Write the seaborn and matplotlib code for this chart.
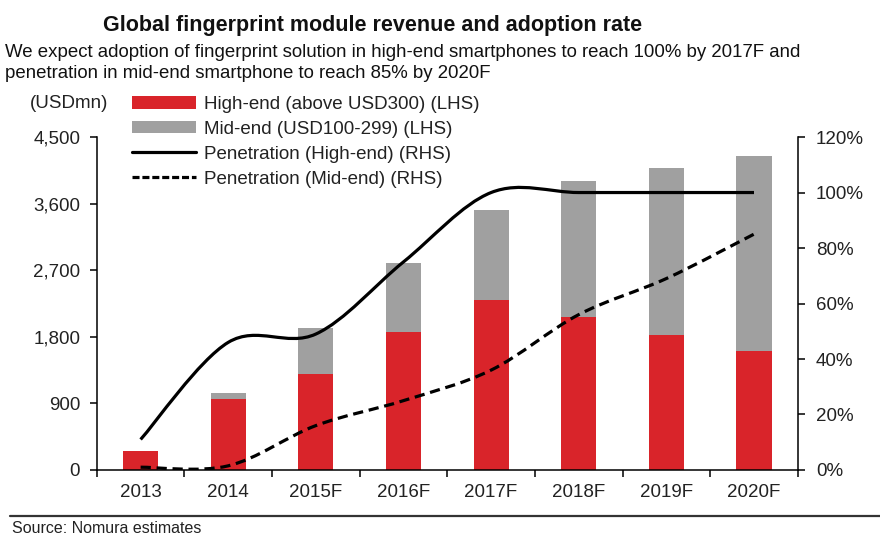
import numpy as np
import pandas as pd
import matplotlib
matplotlib.use("Agg")
import matplotlib.pyplot as plt
import seaborn as sns
from matplotlib.path import Path
from matplotlib.patches import PathPatch, Patch
from matplotlib.lines import Line2D
from matplotlib.ticker import FuncFormatter, PercentFormatter

# data
years = ["2013", "2014", "2015F", "2016F", "2017F", "2018F", "2019F", "2020F"]
high_end = [250, 959, 1297, 1864, 2297, 2071, 1824, 1608]      # USDmn
mid_end = [0, 77, 621, 933, 1216, 1834, 2260, 2634]            # USDmn
pen_high = [0.11, 0.46, 0.49, 0.75, 1.00, 1.00, 1.00, 1.00]
pen_mid = [0.01, 0.015, 0.16, 0.25, 0.36, 0.56, 0.69, 0.85]

RED = "#D9242A"
GREY = "#A0A0A0"

sns.set_style("white")
plt.rcParams["font.family"] = ["Liberation Sans", "DejaVu Sans"]

df = pd.DataFrame({"year": years, "high": high_end, "mid": mid_end})
df["total"] = df["high"] + df["mid"]

fig = plt.figure(figsize=(8.8, 5.37), dpi=100)
ax = fig.add_axes([0.110, 0.1248, 0.7966, 0.620])

# stacked bars: total in grey behind, high-end in red in front
sns.barplot(data=df, x="year", y="total", order=years, color=GREY,
            saturation=1, width=0.4, linewidth=0, ax=ax)
sns.barplot(data=df, x="year", y="high", order=years, color=RED,
            saturation=1, width=0.4, linewidth=0, ax=ax)
ax.set_xlabel("")
ax.set_ylabel("")
ax.set_xlim(-0.5, len(years) - 0.5)
ax.set_ylim(0, 4500)
ax.set_yticks(np.arange(0, 4501, 900))
ax.yaxis.set_major_formatter(FuncFormatter(lambda v, p: f"{v:,.0f}"))

ax.set_xticks(range(len(years)))
ax.set_xticklabels(years)
ax.set_xticks(np.arange(-0.5, len(years)), minor=True)
ax.tick_params(axis="x", which="major", length=0, pad=10, labelsize=13.5,
               colors="#222222")
ax.tick_params(axis="x", which="minor", length=5, width=1.1, color="black",
               direction="out", bottom=True)
ax.tick_params(axis="y", length=5, width=1.1, direction="out", pad=7,
               labelsize=13.5, colors="#222222")
ax.tick_params(axis="y", color="black")

for s in ["left", "bottom", "right"]:
    ax.spines[s].set_visible(True)
    ax.spines[s].set_color("black")
    ax.spines[s].set_linewidth(1.1)
ax.spines["top"].set_visible(False)


def smooth_path(xs, ys):
    # excel-like smoothed line (cubic bezier through the data points)
    pts = np.column_stack([xs, ys]).astype(float)
    n = len(pts)
    verts = [pts[0]]
    codes = [Path.MOVETO]
    for i in range(n - 1):
        p0 = pts[i - 1] if i > 0 else pts[i]
        p1 = pts[i]
        p2 = pts[i + 1]
        p3 = pts[i + 2] if i + 2 < n else pts[i + 1]
        verts += [p1 + (p2 - p0) / 6, p2 - (p3 - p1) / 6, p2]
        codes += [Path.CURVE4] * 3
    return Path(verts, codes)


ax2 = ax.twinx()
ax2.set_ylim(0, 1.2)
ax2.set_yticks(np.arange(0, 1.21, 0.2))
ax2.yaxis.set_major_formatter(PercentFormatter(1.0, decimals=0))
ax2.tick_params(axis="y", length=5, width=1.1, direction="out", pad=8,
                labelsize=13.5, colors="#222222")
ax2.tick_params(axis="y", color="black")
for s in ax2.spines.values():
    s.set_visible(False)
ax2.grid(False)
ax.grid(False)

xpos = np.arange(len(years))
ax2.add_patch(PathPatch(smooth_path(xpos, pen_high), fill=False,
                        edgecolor="black", lw=2.3, capstyle="butt"))
ax2.add_patch(PathPatch(smooth_path(xpos, pen_mid), fill=False,
                        edgecolor="black", lw=2.3, linestyle=(0, (3.2, 1.8)),
                        capstyle="butt"))

handles = [
    Patch(facecolor=RED, edgecolor="none"),
    Patch(facecolor=GREY, edgecolor="none"),
    Line2D([], [], color="black", lw=2.3),
    Line2D([], [], color="black", lw=2.3, linestyle=(0, (2.2, 0.9))),
]
labels = [
    "High-end (above USD300) (LHS)",
    "Mid-end (USD100-299) (LHS)",
    "Penetration (High-end) (RHS)",
    "Penetration (Mid-end) (RHS)",
]
fig.legend(handles, labels, loc="upper left",
           bbox_to_anchor=(132 / 880, 1 - 96 / 537),
           frameon=False, fontsize=13.5, handlelength=3.4, handleheight=0.64,
           handletextpad=0.45, labelspacing=0.42, borderpad=0,
           borderaxespad=0, labelcolor="#222222")

fig.text(30 / 880, 1 - 104 / 537, "(USDmn)", fontsize=13.5, va="center",
         ha="left", color="#222222")

fig.text(103 / 880, 1 - 31 / 537,
         "Global fingerprint module revenue and adoption rate",
         fontsize=15.5, fontweight="bold", va="baseline", ha="left",
         color="#111111")
fig.text(5 / 880, 1 - 57 / 537,
         "We expect adoption of fingerprint solution in high-end smartphones "
         "to reach 100% by 2017F and",
         fontsize=13.4, va="baseline", ha="left", color="#111111")
fig.text(5 / 880, 1 - 78 / 537,
         "penetration in mid-end smartphone to reach 85% by 2020F",
         fontsize=13.4, va="baseline", ha="left", color="#111111")

fig.add_artist(Line2D([10 / 880, 1], [1 - 516 / 537, 1 - 516 / 537],
                      transform=fig.transFigure, color="#333333", lw=1.6))
fig.text(12 / 880, 1 - 533 / 537, "Source: Nomura estimates", fontsize=11.5,
         va="baseline", ha="left", color="#222222")

fig.savefig("out.png", dpi=100, facecolor="white")
